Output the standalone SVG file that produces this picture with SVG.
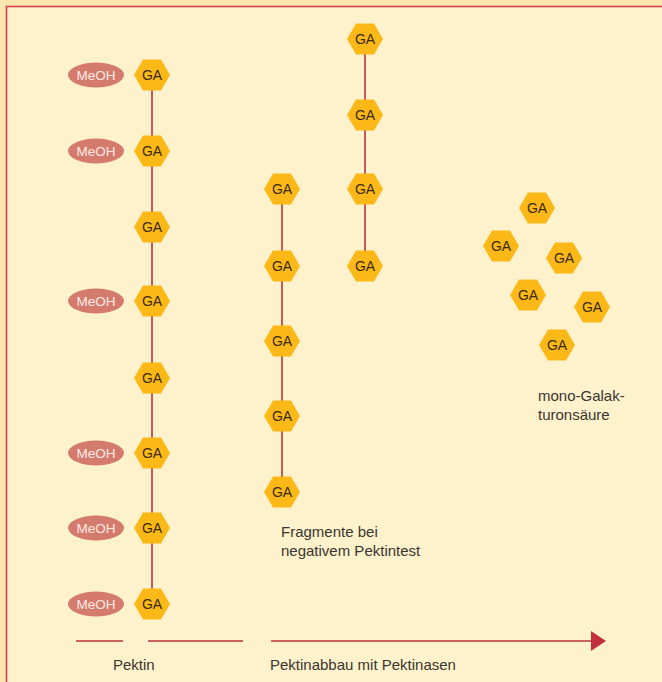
<svg xmlns="http://www.w3.org/2000/svg" width="662" height="682" viewBox="0 0 662 682">
<defs>
<style>
.hex{fill:#fbb817}
.ga{font-family:"Liberation Sans",Arial,sans-serif;font-size:14px;fill:#3a2a12;text-anchor:middle}
.me{fill:#d47b6e}
.met{font-family:"Liberation Sans",Arial,sans-serif;font-size:13.5px;fill:#fde9e2;text-anchor:middle}
.lab{font-family:"Liberation Sans",Arial,sans-serif;font-size:15px;fill:#3a3530}
.link{stroke:#b8323e;stroke-width:1.6;fill:none}
</style>
<polygon id="h" class="hex" points="-18,0 -9,-15.5 9,-15.5 18,0 9,15.5 -9,15.5"/>
</defs>
<rect x="0" y="0" width="662" height="682" fill="#fde7b0"/>
<rect x="6.5" y="6.5" width="670" height="690" fill="#fef2cc" stroke="#d4404a" stroke-width="1.6"/>

<g id="connectors">
<line class="link" x1="152" y1="75" x2="152" y2="604"/>
<line class="link" x1="282" y1="189" x2="282" y2="492"/>
<line class="link" x1="365" y1="39" x2="365" y2="266"/>
<line class="link" x1="76" y1="641" x2="123" y2="641"/>
<line class="link" x1="148" y1="641" x2="243" y2="641"/>
<line class="link" x1="271" y1="641" x2="594" y2="641"/>
<polygon points="591,631 606,641 591,651" fill="#c0303e"/>
</g>

<g id="pektin">
<g id="m1"><ellipse class="me" cx="96" cy="75" rx="28" ry="12.5"/><text class="met" x="96" y="80">MeOH</text></g>
<g id="m2"><ellipse class="me" cx="96" cy="151" rx="28" ry="12.5"/><text class="met" x="96" y="156">MeOH</text></g>
<g id="m3"><ellipse class="me" cx="96" cy="301" rx="28" ry="12.5"/><text class="met" x="96" y="306">MeOH</text></g>
<g id="m4"><ellipse class="me" cx="96" cy="453" rx="28" ry="12.5"/><text class="met" x="96" y="458">MeOH</text></g>
<g id="m5"><ellipse class="me" cx="96" cy="528" rx="28" ry="12.5"/><text class="met" x="96" y="533">MeOH</text></g>
<g id="m6"><ellipse class="me" cx="96" cy="604" rx="28" ry="12.5"/><text class="met" x="96" y="609">MeOH</text></g>
<g id="p1"><use href="#h" x="152" y="75"/><text class="ga" x="152" y="80">GA</text></g>
<g id="p2"><use href="#h" x="152" y="151"/><text class="ga" x="152" y="156">GA</text></g>
<g id="p3"><use href="#h" x="152" y="227"/><text class="ga" x="152" y="232">GA</text></g>
<g id="p4"><use href="#h" x="152" y="301"/><text class="ga" x="152" y="306">GA</text></g>
<g id="p5"><use href="#h" x="152" y="378"/><text class="ga" x="152" y="383">GA</text></g>
<g id="p6"><use href="#h" x="152" y="453"/><text class="ga" x="152" y="458">GA</text></g>
<g id="p7"><use href="#h" x="152" y="528"/><text class="ga" x="152" y="533">GA</text></g>
<g id="p8"><use href="#h" x="152" y="604"/><text class="ga" x="152" y="609">GA</text></g>
</g>

<g id="fragment1">
<g id="f1"><use href="#h" x="282" y="189"/><text class="ga" x="282" y="194">GA</text></g>
<g id="f2"><use href="#h" x="282" y="266"/><text class="ga" x="282" y="271">GA</text></g>
<g id="f3"><use href="#h" x="282" y="341"/><text class="ga" x="282" y="346">GA</text></g>
<g id="f4"><use href="#h" x="282" y="416"/><text class="ga" x="282" y="421">GA</text></g>
<g id="f5"><use href="#h" x="282" y="492"/><text class="ga" x="282" y="497">GA</text></g>
</g>

<g id="fragment2">
<g id="g1"><use href="#h" x="365" y="39"/><text class="ga" x="365" y="44">GA</text></g>
<g id="g2"><use href="#h" x="365" y="115"/><text class="ga" x="365" y="120">GA</text></g>
<g id="g3"><use href="#h" x="365" y="189"/><text class="ga" x="365" y="194">GA</text></g>
<g id="g4"><use href="#h" x="365" y="266"/><text class="ga" x="365" y="271">GA</text></g>
</g>

<g id="mono">
<g id="s1"><use href="#h" x="537" y="208"/><text class="ga" x="537" y="213">GA</text></g>
<g id="s2"><use href="#h" x="501" y="246"/><text class="ga" x="501" y="251">GA</text></g>
<g id="s3"><use href="#h" x="564" y="258"/><text class="ga" x="564" y="263">GA</text></g>
<g id="s4"><use href="#h" x="528" y="295"/><text class="ga" x="528" y="300">GA</text></g>
<g id="s5"><use href="#h" x="592" y="307"/><text class="ga" x="592" y="312">GA</text></g>
<g id="s6"><use href="#h" x="557" y="345"/><text class="ga" x="557" y="350">GA</text></g>
</g>

<g id="labels">
<text class="lab" x="281" y="537">Fragmente bei</text>
<text class="lab" x="281" y="556">negativem Pektintest</text>
<text class="lab" x="538" y="401">mono-Galak-</text>
<text class="lab" x="538" y="420">turonsäure</text>
<text class="lab" x="113" y="670">Pektin</text>
<text class="lab" x="270" y="670">Pektinabbau mit Pektinasen</text>
</g>
</svg>
